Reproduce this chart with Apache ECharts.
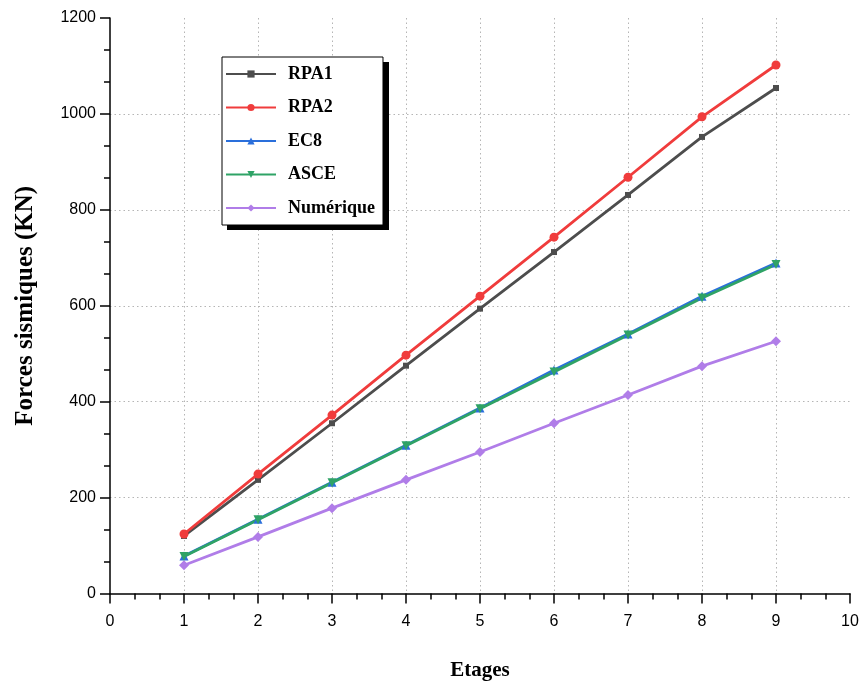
<!DOCTYPE html>
<html>
<head>
<meta charset="utf-8">
<script src="https://cdn.jsdelivr.net/npm/echarts@6/dist/echarts.min.js"></script>
<style>html,body{margin:0;padding:0;background:#fff}#c{width:860px;height:682px}</style>
</head>
<body>
<div id="c"></div>
<script>
const etages = [1, 2, 3, 4, 5, 6, 7, 8, 9];
const rpa1 = [120, 237, 355, 475, 594, 712, 831, 952, 1054];
const rpa2 = [124, 249, 372, 497, 620, 743, 868, 994, 1102];
const ec8 = [78, 155, 232, 309, 387, 466, 541, 620, 689];
const asce = [77, 154, 231, 308, 385, 462, 539, 616, 686];
const numerique = [59, 118, 178, 237, 295, 355, 414, 474, 526];
const xTicks = [0, 10, 1];
const yTicks = [0, 1200, 200];

function pairs(ys) { return etages.map((x, i) => [x, ys[i]]); }

const chart = echarts.init(document.getElementById('c'), null, {renderer: 'canvas'});
function mk(name, data, color, symbol, size) {
  return {
    name: name, type: 'line', data: pairs(data),
    symbol: symbol, symbolSize: size,
    itemStyle: {color: color},
    lineStyle: {color: color, width: 2.8},
    emphasis: {disabled: true},
    animation: false
  };
}
chart.setOption({
  animation: false,
  backgroundColor: '#fff',
  grid: {left: 110, right: 10, top: 18, bottom: 88.5, containLabel: false, outerBoundsMode: 'none'},
  graphic: [{
    type: 'rect', z: 1, silent: true,
    shape: {x: 227, y: 62, width: 162, height: 168},
    style: {fill: '#000'}
  }],
  legend: {
    z: 10,
    orient: 'vertical', left: 222, top: 57,
    padding: [7, 8, 7, 3],
    itemWidth: 50, itemHeight: 9, itemGap: 13.5,
    backgroundColor: '#fff', borderColor: '#000', borderWidth: 1,
    textStyle: {fontFamily: 'Liberation Serif', fontWeight: 'bold', fontSize: 18, color: '#000', lineHeight: 20, padding: [0, 0, 0, 7]},
    data: ['RPA1', 'RPA2', 'EC8', 'ASCE', 'Numérique']
  },
  xAxis: {
    type: 'value', min: xTicks[0], max: xTicks[1], interval: xTicks[2],
    name: 'Etages', nameLocation: 'middle', nameGap: 67,
    nameTextStyle: {fontFamily: 'Liberation Serif', fontWeight: 'bold', fontSize: 21, color: '#000'},
    axisLine: {show: true, onZero: false, lineStyle: {color: '#000', width: 1.5}},
    axisTick: {show: true, inside: false, length: 10, lineStyle: {color: '#000', width: 1.5}},
    minorTick: {show: true, splitNumber: 3, length: 6, lineStyle: {color: '#000', width: 1.5}},
    axisLabel: {margin: 20, fontFamily: 'Liberation Sans', fontSize: 16, color: '#000'},
    splitLine: {show: true, showMinLine: false, showMaxLine: false, lineStyle: {type: [1.5, 3], color: '#b5b5b5', width: 1}}
  },
  yAxis: {
    type: 'value', min: yTicks[0], max: yTicks[1], interval: yTicks[2],
    name: 'Forces sismiques (KN)', nameLocation: 'middle', nameGap: 72,
    nameTextStyle: {fontFamily: 'Liberation Serif', fontWeight: 'bold', fontSize: 25, color: '#000'},
    axisLine: {show: true, onZero: false, lineStyle: {color: '#000', width: 1.5}},
    axisTick: {show: true, inside: false, length: 10, lineStyle: {color: '#000', width: 1.5}},
    minorTick: {show: true, splitNumber: 3, length: 6, lineStyle: {color: '#000', width: 1.5}},
    axisLabel: {margin: 14, fontFamily: 'Liberation Sans', fontSize: 16, color: '#000', formatter: v => String(v)},
    splitLine: {show: true, showMinLine: false, showMaxLine: false, lineStyle: {type: [1.5, 3], color: '#b5b5b5', width: 1}}
  },
  series: [
    mk('RPA1', rpa1, '#4d4d4d', 'rect', 6),
    mk('RPA2', rpa2, '#f03c3c', 'circle', 9),
    mk('EC8', ec8, '#2a6fdb', 'triangle', 9),
    mk('ASCE', asce, '#2fa366', 'path://M0,0 L10,0 L5,9 Z', 9),
    mk('Numérique', numerique, '#b07de8', 'diamond', 10)
  ]
});
</script>
</body>
</html>
